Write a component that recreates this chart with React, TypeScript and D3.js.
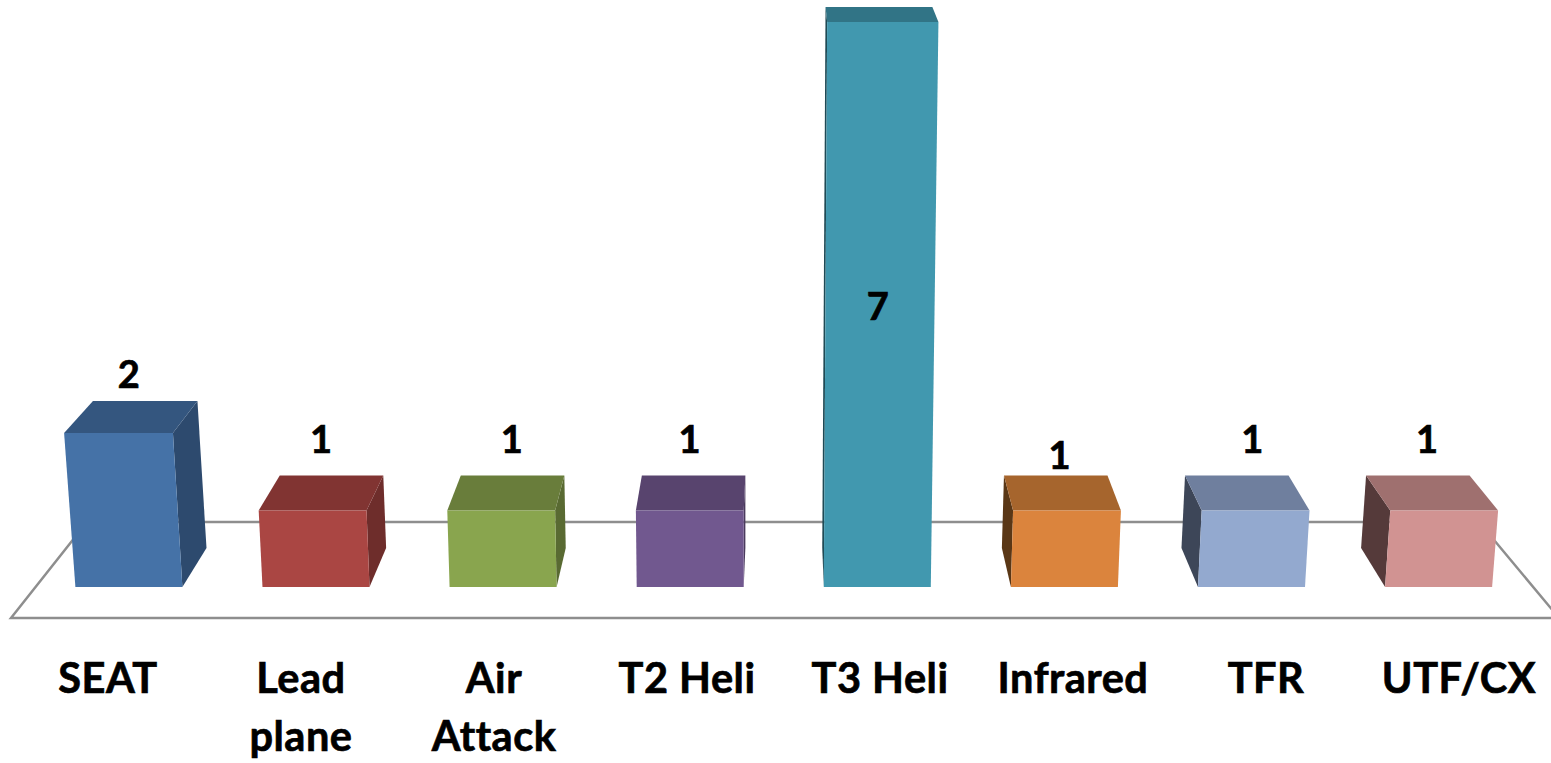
import React, { useRef, useEffect } from "react";
import * as d3 from "d3";

const categories = ["SEAT", "Lead plane", "Air Attack", "T2 Heli", "T3 Heli", "Infrared", "TFR", "UTF/CX"];
const values = [2, 1, 1, 1, 7, 1, 1, 1];

const frontColors = ["#4572A7", "#AA4643", "#89A54E", "#71588F", "#4198AF", "#DB843D", "#93A9CF", "#D19392"];
const topColors = ["#34567F", "#813432", "#697D3B", "#58446E", "#317486", "#A6652D", "#6F7F9E", "#9F706F"];
const sideColors = ["#2D4A6E", "#6E2D2B", "#596A32", "#4A3A5D", "#1F4A55", "#5A3716", "#3D4658", "#553A3A"];

// hand-placed value labels in the original chart
const labelNudgeX = [-2, 0, 6, -1, -2, -3, 5, -5];
const labelNudgeY = [-13, -23, -23, -23, 0, -7, -23, -23];

const WIDTH = 1551;
const HEIGHT = 763;
const BAR_WIDTH = 107;
const BAR_STEP = 187.1;
const DEPTH_SHRINK = 0.96;
const VANISH_X = 785;
const SPREAD_X = 740;

const App = () => {
  const chartRef = useRef<SVGSVGElement | null>(null);

  useEffect(() => {
    if (!chartRef.current) return;

    const svg = d3.select(chartRef.current);
    svg.selectAll("*").remove();

    // X scale for bars, measured on the front edge of the floor
    const x = d3
      .scaleBand<string>()
      .domain(categories)
      .range([75.4, 75.4 + BAR_STEP * (categories.length - 1) + BAR_WIDTH])
      .paddingInner(1 - BAR_WIDTH / BAR_STEP)
      .paddingOuter(0);

    // the 3D view is not linear in height, so these scales have several stops
    const heightStops = [0, 1, 2, 7];
    const yFront = d3.scaleLinear().domain(heightStops).range([587, 510.5, 433, 22]);
    const yBack = d3.scaleLinear().domain(heightStops).range([548, 475.5, 401, 7]);
    const spread = d3.scaleLinear().domain(heightStops).range([1, 1.008, 1.017, 1.04]);

    // X scale for the axis labels, they sit wider than the bars
    const labelX = d3
      .scalePoint<string>()
      .domain(categories)
      .range([108, 1459]);

    const project = (px: number, back: boolean, v: number): [number, number] => {
      const depthX = back ? VANISH_X + (px - VANISH_X) * DEPTH_SHRINK : px;
      return [SPREAD_X + (depthX - SPREAD_X) * spread(v), back ? yBack(v) : yFront(v)];
    };

    const line = d3.line();

    // Floor
    svg
      .append("path")
      .attr("d", line([[11, 618], [87, 522], [1479, 522], [1559, 618]]) + "Z")
      .attr("fill", "none")
      .attr("stroke", "#8E8E8E")
      .attr("stroke-width", 2.5);

    const bars = svg
      .selectAll("g.bar")
      .data(categories)
      .enter()
      .append("g")
      .attr("class", "bar");

    // side face, right of the vanishing point we see the left one
    bars
      .append("path")
      .attr("d", (d, i) => {
        const x0 = x(d) || 0;
        const edge = x0 + BAR_WIDTH / 2 < VANISH_X ? x0 + BAR_WIDTH : x0;
        const v = values[i];
        return (
          line([
            project(edge, false, 0),
            project(edge, true, 0),
            project(edge, true, v),
            project(edge, false, v),
          ]) + "Z"
        );
      })
      .attr("fill", (_, i) => sideColors[i]);

    // top face
    bars
      .append("path")
      .attr("d", (d, i) => {
        const x0 = x(d) || 0;
        const x1 = x0 + BAR_WIDTH;
        const v = values[i];
        return (
          line([
            project(x0, false, v),
            project(x0, true, v),
            project(x1, true, v),
            project(x1, false, v),
          ]) + "Z"
        );
      })
      .attr("fill", (_, i) => topColors[i]);

    // front face
    bars
      .append("path")
      .attr("d", (d, i) => {
        const x0 = x(d) || 0;
        const x1 = x0 + BAR_WIDTH;
        const v = values[i];
        return (
          line([
            project(x0, false, 0),
            project(x0, false, v),
            project(x1, false, v),
            project(x1, false, 0),
          ]) + "Z"
        );
      })
      .attr("fill", (_, i) => frontColors[i]);

    // Value labels, the tall bar has its label inside
    bars
      .append("text")
      .attr("x", (d, i) => {
        const x0 = x(d) || 0;
        const v = values[i];
        const left = project(x0, false, v)[0];
        const right = project(x0 + BAR_WIDTH, true, v)[0];
        const mid = i === 4 ? (left + right) / 2 : (Math.min(left, project(x0, true, v)[0]) + Math.max(right, project(x0 + BAR_WIDTH, false, v)[0])) / 2;
        return mid + labelNudgeX[i];
      })
      .attr("y", (_, i) => (values[i] > 2 ? 320 : yBack(values[i]) + labelNudgeY[i]))
      .attr("text-anchor", "middle")
      .style("font-family", "Lato")
      .style("font-weight", 700)
      .style("font-size", "38px")
      .style("fill", "#000")
      .style("stroke", "#000")
      .style("stroke-width", 0.7)
      .text((_, i) => values[i]);

    // Category labels, the two long ones wrap onto a second line
    svg
      .selectAll("text.cat")
      .data(categories)
      .enter()
      .append("text")
      .attr("class", "cat")
      .attr("text-anchor", "middle")
      .style("font-family", "Lato")
      .style("font-weight", 700)
      .style("font-size", "41.5px")
      .style("letter-spacing", "0.5px")
      .style("fill", "#000")
      .style("stroke", "#000")
      .style("stroke-width", 0.7)
      .each(function (d) {
        const lines = d === "Lead plane" || d === "Air Attack" ? d.split(" ") : [d];
        d3.select(this)
          .selectAll("tspan")
          .data(lines)
          .enter()
          .append("tspan")
          .attr("x", labelX(d) || 0)
          .attr("y", (_, j) => 693 + j * 58)
          .text((t) => t);
      });
  }, []);

  return (
    <svg
      ref={chartRef}
      width={WIDTH}
      height={HEIGHT}
      style={{ position: "absolute", left: 0, top: 0, background: "#fff" }}
    />
  );
};

export default App;
